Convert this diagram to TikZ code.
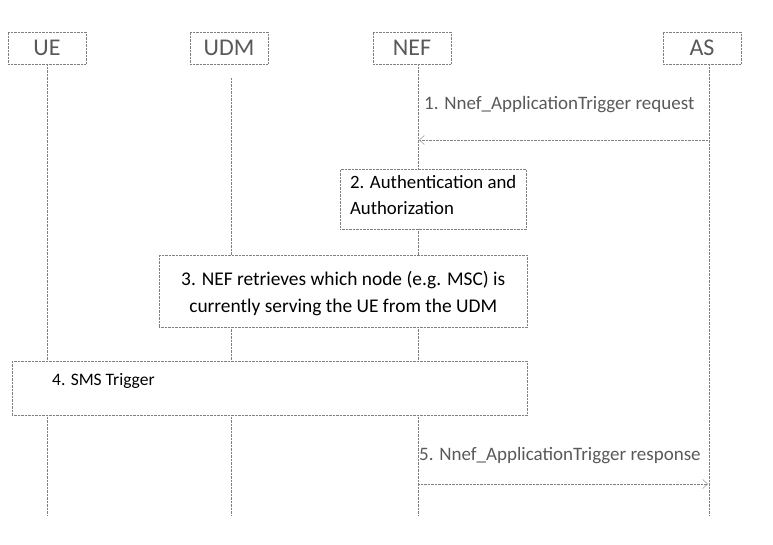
\documentclass[tikz,border=0pt]{standalone}
\usepackage{fontspec}
\setmainfont{Carlito}
\usetikzlibrary{arrows.meta}
\tikzset{
  entity/.style={draw=gray, densely dotted, minimum width=78pt, minimum height=32pt, inner sep=0pt, font=\fontsize{24}{26}\selectfont, text=gray!70!black},
  lifeline/.style={gray, densely dotted},
  stepbox/.style={draw=gray, densely dotted, fill=white, inner sep=4pt, align=left},
  msg/.style={gray, densely dotted, -{Straight Barb[length=5pt,width=9pt]}},
  msglabel/.style={font=\fontsize{19}{21}\selectfont, text=gray!70!black, anchor=west, inner sep=0pt}
}
\begin{document}
\begin{tikzpicture}[x=1pt,y=-1pt]
  \useasboundingbox (0,0) rectangle (773,545);
  % entities
  \node[entity] (ue) at (47,48) {UE};
  \node[entity] (udm) at (229,48) {UDM};
  \node[entity] (nef) at (412,48) {NEF};
  \node[entity] (as) at (702,48) {AS};
  \coordinate (uebot) at (47,515);
  \coordinate (udmbot) at (231,515);
  \coordinate (nefbot) at (418,515);
  \coordinate (asbot) at (709,515);
  % lifelines
  \draw[lifeline] (47,64) -- (uebot);
  \draw[lifeline] (231,78) -- (udmbot);
  \draw[lifeline] (418,64) -- (nefbot);
  \draw[lifeline] (709,64) -- (asbot);
  % steps
  \node[msglabel] (m1) at (424,105) {1. Nnef\_ApplicationTrigger request};
  \coordinate (m1a) at (709,140);
  \coordinate (m1b) at (419,140);
  \draw[msg] (m1a) -- (m1b);
  \node[stepbox, inner xsep=1pt, minimum width=186pt, minimum height=60pt, anchor=north west, font=\fontsize{18.8}{26}\selectfont] (s2) at (340,169) {2. Authentication and\\Authorization\strut};
  \node[stepbox, minimum width=368pt, minimum height=72pt, anchor=north west, align=center, font=\fontsize{19.4}{27}\selectfont] (s3) at (159,255) {\strut3. NEF retrieves which node (e.g. MSC) is\\currently serving the UE from the UDM};
  \node[draw=gray, densely dotted, fill=white, minimum width=515pt, minimum height=54pt, anchor=north west] (s4) at (12,361) {};
  \node[font=\fontsize{17.5}{20}\selectfont, anchor=west, inner sep=0pt] (s4t) at (52,381) {4. SMS Trigger};
  \node[msglabel] (m5) at (419,456) {5. Nnef\_ApplicationTrigger response};
  \coordinate (m5a) at (418,484);
  \coordinate (m5b) at (708,484);
  \draw[msg] (m5a) -- (m5b);
\end{tikzpicture}
\end{document}
